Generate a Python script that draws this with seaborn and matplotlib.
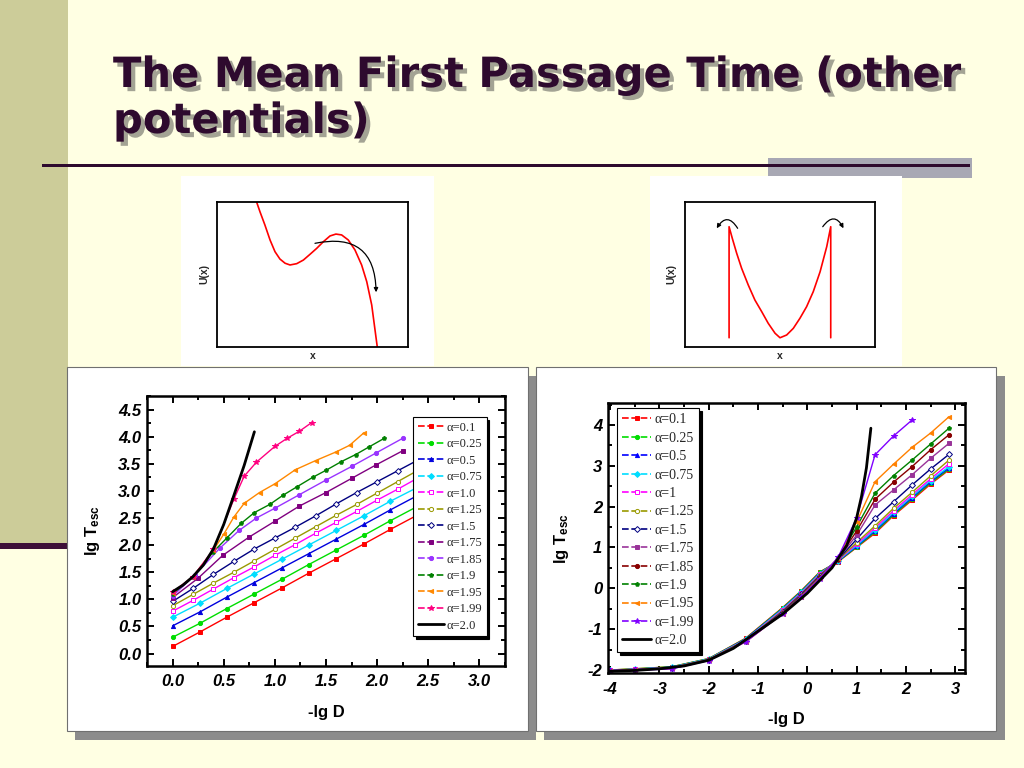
import matplotlib
matplotlib.use("Agg")
import matplotlib.pyplot as plt
import seaborn as sns
from matplotlib.patches import Rectangle
from matplotlib.lines import Line2D
from matplotlib.ticker import MultipleLocator, FormatStrFormatter, NullLocator
from matplotlib.font_manager import FontProperties
import matplotlib.patheffects as pe

# ---------------- data ----------------
TITLE_1 = "The Mean First Passage Time (other"
TITLE_2 = "potentials)"

LABELS_L = ['α=0.1', 'α=0.25', 'α=0.5', 'α=0.75', 'α=1.0', 'α=1.25', 'α=1.5',
            'α=1.75', 'α=1.85', 'α=1.9', 'α=1.95', 'α=1.99', 'α=2.0']
LABELS_R = ['α=0.1', 'α=0.25', 'α=0.5', 'α=0.75', 'α=1', 'α=1.25', 'α=1.5',
            'α=1.75', 'α=1.85', 'α=1.9', 'α=1.95', 'α=1.99', 'α=2.0']

COLORS_L = ['#FF0000', '#00DD00', '#0000DD', '#00DDFF', '#FF00FF', '#999900', '#000080',
            '#800080', '#9933FF', '#008000', '#FF8800', '#FF0080', '#000000']
COLORS_R = ['#FF0000', '#00DD00', '#0000FF', '#00DDFF', '#FF00FF', '#999900', '#000080',
            '#993399', '#880000', '#008000', '#FF8000', '#8000FF', '#000000']
MARKERS = ['s', 'o', '^', 'D', 's', 'o', 'D', 's', 'o', 'p', '<', '*', '']
OPEN = [False, False, False, False, True, True, True, False, False, False, False, False, False]

# left panel: lg T_esc vs -lg D
L_X_LOW = [0.0, 0.27, 0.53, 0.8, 1.07, 1.33, 1.6, 1.87, 2.13, 2.4, 2.67, 2.93]
L_Y_010 = [0.13, 0.40, 0.67, 0.94, 1.21, 1.48, 1.75, 2.02, 2.29, 2.56, 2.83, 3.10]
L_Y_025 = [0.30, 0.56, 0.83, 1.10, 1.37, 1.64, 1.91, 2.18, 2.45, 2.72, 2.99, 3.26]
L_Y_050 = [0.51, 0.77, 1.04, 1.31, 1.58, 1.84, 2.11, 2.38, 2.65, 2.92, 3.19, 3.46]
L_Y_075 = [0.67, 0.93, 1.20, 1.47, 1.74, 2.00, 2.27, 2.54, 2.81, 3.07, 3.34, 3.60]
L_X_MID = [0.0, 0.2, 0.4, 0.6, 0.8, 1.0, 1.2, 1.4, 1.6, 1.8, 2.0, 2.2, 2.4, 2.6, 2.8]
L_Y_100 = [0.78, 0.98, 1.19, 1.40, 1.60, 1.81, 2.01, 2.22, 2.42, 2.62, 2.83, 3.03, 3.24, 3.44, 3.65]
L_Y_125 = [0.88, 1.09, 1.30, 1.50, 1.71, 1.92, 2.13, 2.34, 2.55, 2.75, 2.96, 3.17, 3.38, 3.58, 3.79]
L_Y_150 = [0.96, 1.20, 1.46, 1.70, 1.93, 2.13, 2.33, 2.54, 2.76, 2.97, 3.17, 3.37, 3.57, 3.77, 3.97]
L_X_175 = [0.0, 0.25, 0.49, 0.75, 1.0, 1.24, 1.5, 1.75, 1.99, 2.25]
L_Y_175 = [1.03, 1.39, 1.81, 2.15, 2.44, 2.72, 2.97, 3.23, 3.48, 3.74]
L_X_185 = [0.0, 0.22, 0.46, 0.65, 0.82, 1.0, 1.24, 1.5, 1.75, 1.99, 2.25]
L_Y_185 = [1.06, 1.45, 1.94, 2.27, 2.50, 2.68, 2.93, 3.20, 3.45, 3.70, 3.97]
L_X_190 = [0.0, 0.2, 0.4, 0.53, 0.67, 0.8, 0.95, 1.08, 1.22, 1.37, 1.5, 1.65, 1.79, 1.92, 2.07]
L_Y_190 = [1.10, 1.42, 1.88, 2.13, 2.40, 2.60, 2.75, 2.92, 3.08, 3.25, 3.38, 3.54, 3.67, 3.81, 3.97]
L_X_195 = [0.0, 0.2, 0.4, 0.5, 0.6, 0.7, 0.85, 1.0, 1.2, 1.4, 1.6, 1.73, 1.87]
L_Y_195 = [1.12, 1.42, 1.91, 2.20, 2.52, 2.77, 2.97, 3.13, 3.39, 3.56, 3.72, 3.84, 4.07]
L_X_199 = [0.0, 0.2, 0.4, 0.6, 0.7, 0.82, 1.0, 1.12, 1.24, 1.36]
L_Y_199 = [1.13, 1.42, 1.92, 2.85, 3.27, 3.53, 3.82, 3.97, 4.10, 4.26]
L_X_200 = [0.0, 0.1, 0.2, 0.3, 0.4, 0.5, 0.6, 0.7, 0.8]
L_Y_200 = [1.14, 1.26, 1.42, 1.63, 1.93, 2.38, 2.92, 3.47, 4.09]

# right panel
R_X = [-4.0, -3.5, -2.75, -2.0, -1.25, -0.5, -0.125, 0.25, 0.625, 1.0, 1.375, 1.75, 2.125, 2.5, 2.875]
R_Y_010 = [-2.00, -1.97, -1.92, -1.72, -1.22, -0.47, -0.06, 0.40, 0.65, 1.00, 1.35, 1.78, 2.16, 2.55, 2.90]
R_Y_025 = [-2.00, -1.97, -1.92, -1.72, -1.23, -0.48, -0.07, 0.39, 0.66, 1.01, 1.38, 1.80, 2.19, 2.58, 2.92]
R_Y_050 = [-2.01, -1.98, -1.93, -1.73, -1.24, -0.50, -0.09, 0.37, 0.67, 1.03, 1.41, 1.83, 2.22, 2.61, 2.95]
R_Y_075 = [-2.01, -1.98, -1.93, -1.73, -1.25, -0.51, -0.10, 0.36, 0.68, 1.05, 1.44, 1.86, 2.25, 2.64, 2.98]
R_Y_100 = [-2.01, -1.98, -1.94, -1.74, -1.26, -0.53, -0.12, 0.34, 0.69, 1.08, 1.48, 1.90, 2.29, 2.68, 3.05]
R_Y_125 = [-2.02, -1.99, -1.94, -1.74, -1.27, -0.55, -0.14, 0.32, 0.70, 1.12, 1.53, 1.96, 2.35, 2.75, 3.14]
R_Y_150 = [-2.02, -1.99, -1.95, -1.75, -1.28, -0.57, -0.15, 0.30, 0.71, 1.20, 1.71, 2.12, 2.53, 2.92, 3.28]
R_Y_175 = [-2.02, -2.00, -1.95, -1.75, -1.29, -0.59, -0.17, 0.28, 0.72, 1.30, 2.04, 2.41, 2.78, 3.18, 3.55]
R_Y_185 = [-2.03, -2.00, -1.96, -1.76, -1.30, -0.60, -0.18, 0.27, 0.73, 1.40, 2.18, 2.60, 2.98, 3.39, 3.76]
R_Y_190 = [-2.03, -2.00, -1.96, -1.76, -1.30, -0.61, -0.19, 0.26, 0.74, 1.50, 2.33, 2.76, 3.14, 3.53, 3.92]
R_Y_195 = [-2.03, -2.00, -1.96, -1.76, -1.31, -0.62, -0.20, 0.25, 0.75, 1.62, 2.61, 3.04, 3.45, 3.80, 4.20]
R_X_199 = [-4.0, -3.5, -2.75, -2.0, -1.25, -0.5, -0.125, 0.25, 0.625, 1.0, 1.375, 1.75, 2.125]
R_Y_199 = [-2.03, -2.01, -1.97, -1.77, -1.31, -0.62, -0.21, 0.24, 0.76, 1.72, 3.27, 3.73, 4.12]
R_X_200 = [-4.0, -3.5, -3.0, -2.5, -2.0, -1.5, -1.0, -0.5, 0.0, 0.5, 0.8, 1.0, 1.1, 1.2, 1.29]
R_Y_200 = [-2.03, -2.01, -1.97, -1.90, -1.76, -1.47, -1.05, -0.63, -0.12, 0.50, 1.05, 1.72, 2.25, 2.95, 3.92]

# potential sketches (axes scaled 0..10)
U1_X = [2.07, 2.24, 2.5, 2.77, 3.03, 3.29, 3.56, 3.82, 4.17, 4.52, 4.87, 5.22, 5.57, 5.92,
        6.23, 6.53, 6.88, 7.23, 7.58, 7.85, 8.11, 8.4]
U1_Y = [10.0, 9.35, 8.43, 7.39, 6.58, 6.07, 5.78, 5.66, 5.75, 6.0, 6.4, 6.81, 7.27, 7.67,
        7.8, 7.74, 7.39, 6.7, 5.66, 4.5, 2.89, 0.0]
U2_X = [2.32, 2.32, 2.49, 2.72, 2.98, 3.33, 3.68, 4.04, 4.38, 4.74, 5.0, 5.35, 5.7, 6.05,
        6.4, 6.75, 7.11, 7.46, 7.67, 7.67]
U2_Y = [0.62, 8.31, 7.5, 6.47, 5.43, 4.27, 3.23, 2.42, 1.62, 0.93, 0.62, 0.81, 1.27, 1.97,
        2.77, 3.81, 5.19, 6.93, 8.31, 0.62]

# ---------------- style ----------------
sns.set_theme(style="ticks")
plt.rcParams['font.family'] = ['Liberation Sans', 'DejaVu Sans']
plt.rcParams['axes.unicode_minus'] = False
plt.rcParams['mathtext.fontset'] = 'custom'
plt.rcParams['mathtext.rm'] = 'Liberation Sans:bold'
plt.rcParams['mathtext.it'] = 'Liberation Sans:bold:italic'
plt.rcParams['mathtext.bf'] = 'Liberation Sans:bold'

W, H = 1024, 768
fig = plt.figure(figsize=(W / 100, H / 100), dpi=100)
fig.patch.set_facecolor('#FFFFE3')


def frect(x0, y0, x1, y1):
    return (x0 / W, 1 - y1 / H), (x1 - x0) / W, (y1 - y0) / H


def box(x0, y0, x1, y1, **kw):
    xy, w, h = frect(x0, y0, x1, y1)
    fig.add_artist(Rectangle(xy, w, h, transform=fig.transFigure, **kw))


def axes_at(x0, y0, x1, y1, **kw):
    xy, w, h = frect(x0, y0, x1, y1)
    return fig.add_axes([xy[0], xy[1], w, h], **kw)


# slide decoration
box(0, 0, 68, 543, facecolor='#CCCC99', edgecolor='none', zorder=-10)
box(0, 543, 68, 549, facecolor='#3D0F38', edgecolor='none', zorder=-9)
box(768, 158, 972, 178, facecolor='#A8A8B4', edgecolor='none', zorder=-9)
box(42, 164, 970, 167, facecolor='#2E0A2E', edgecolor='none', zorder=-8)

title_kw = dict(fontsize=30, fontweight='bold', color='#2E0A2E', va='baseline', ha='left',
                family=['DejaVu Sans'],
                path_effects=[pe.withSimplePatchShadow(offset=(3, -3), shadow_rgbFace='#A3A394', alpha=1.0)])
fig.text(113 / W, 1 - 87 / H, TITLE_1, **title_kw)
fig.text(113 / W, 1 - 133 / H, TITLE_2, **title_kw)

# panels
box(181, 176, 434, 366, facecolor='white', edgecolor='none', zorder=-7)
box(650, 176, 902, 366, facecolor='white', edgecolor='none', zorder=-7)
box(75, 376, 536, 740, facecolor='#8C8C8C', edgecolor='none', zorder=-6)
box(544, 376, 1005, 740, facecolor='#8C8C8C', edgecolor='none', zorder=-6)
box(67, 367, 528, 731, facecolor='white', edgecolor='#707070', linewidth=0.8, zorder=-5)
box(536, 367, 996, 731, facecolor='white', edgecolor='#707070', linewidth=0.8, zorder=-5)


# ---------------- insets ----------------
def inset(ax):
    ax.set_xlim(0, 10)
    ax.set_ylim(0, 10)
    ax.set_facecolor('white')
    ax.xaxis.set_major_locator(NullLocator())
    ax.yaxis.set_major_locator(NullLocator())
    for s in ax.spines.values():
        s.set_linewidth(1.3)
        s.set_color('black')
    ax.set_xlabel('x', fontsize=7.5, fontweight='bold', labelpad=3)
    ax.set_ylabel('U(x)', fontsize=7.5, fontweight='bold', labelpad=6)


ax1 = axes_at(217.3, 202.3, 407.7, 346.7)
inset(ax1)
sns.lineplot(x=U1_X, y=U1_Y, ax=ax1, color='red', linewidth=1.2, sort=False, estimator=None)
ax1.annotate('', xy=(8.34, 3.77), xytext=(5.13, 7.16),
             arrowprops=dict(arrowstyle='-|>', color='black', lw=0.9, mutation_scale=6,
                             connectionstyle='arc3,rad=-0.6', shrinkA=0, shrinkB=0))

ax2 = axes_at(685, 202.3, 875, 346.7)
inset(ax2)
sns.lineplot(x=U2_X, y=U2_Y, ax=ax2, color='red', linewidth=1.2, sort=False, estimator=None)
ax2.annotate('', xy=(1.67, 8.2), xytext=(2.77, 8.2),
             arrowprops=dict(arrowstyle='-|>', color='black', lw=0.9, mutation_scale=6,
                             connectionstyle='arc3,rad=0.8', shrinkA=0, shrinkB=0))
ax2.annotate('', xy=(8.34, 8.2), xytext=(7.25, 8.31),
             arrowprops=dict(arrowstyle='-|>', color='black', lw=0.9, mutation_scale=6,
                             connectionstyle='arc3,rad=-0.8', shrinkA=0, shrinkB=0))


# ---------------- main plots ----------------
def draw_series(ax, xs_list, ys_list, colors):
    handles = []
    for i, (xs, ys) in enumerate(zip(xs_list, ys_list)):
        c = colors[i]
        m = MARKERS[i]
        fc = 'white' if OPEN[i] else c
        ms = 4.2 if m == '*' else 3.0
        if m:
            sns.lineplot(x=xs, y=ys, ax=ax, color=c, linewidth=1.0, marker=m, markersize=ms,
                         markerfacecolor=fc, markeredgecolor=c, markeredgewidth=0.7,
                         sort=False, estimator=None, legend=False)
            handles.append(Line2D([], [], color=c, linestyle=(0, (4, 1.6)), linewidth=1.2,
                                  marker=m, markersize=ms, markerfacecolor=fc,
                                  markeredgecolor=c, markeredgewidth=0.7))
        else:
            sns.lineplot(x=xs, y=ys, ax=ax, color=c, linewidth=2.0, sort=False,
                         estimator=None, legend=False)
            handles.append(Line2D([], [], color=c, linewidth=2.0))
    return handles


def style_main(ax):
    for s in ax.spines.values():
        s.set_linewidth(1.8)
        s.set_color('black')
        s.set_visible(True)
    ax.tick_params(which='both', direction='in', top=True, right=True, width=1.4,
                   color='black', labelcolor='black')
    ax.tick_params(which='major', length=5)
    ax.tick_params(which='minor', length=3)
    ax.tick_params(axis='x', which='major', pad=6)
    ax.tick_params(axis='y', which='major', pad=4)
    for lab in ax.get_xticklabels() + ax.get_yticklabels():
        lab.set_fontweight('bold')
        lab.set_fontstyle('italic')
        lab.set_fontsize(12)
    ax.set_xlabel('-lg D', fontsize=12, fontweight='bold', labelpad=11, color='black')
    ax.set_ylabel(r'lg T$_{\mathrm{esc}}$', fontsize=12, fontweight='bold', labelpad=11.5,
                  color='black')
    ax.set_facecolor('white')
    ax.grid(False)


axL = axes_at(147, 396, 505, 666)
hL = draw_series(axL,
                 [L_X_LOW, L_X_LOW, L_X_LOW, L_X_LOW, L_X_MID, L_X_MID, L_X_MID,
                  L_X_175, L_X_185, L_X_190, L_X_195, L_X_199, L_X_200],
                 [L_Y_010, L_Y_025, L_Y_050, L_Y_075, L_Y_100, L_Y_125, L_Y_150,
                  L_Y_175, L_Y_185, L_Y_190, L_Y_195, L_Y_199, L_Y_200], COLORS_L)
axL.set_xlim(-0.25, 3.25)
axL.set_ylim(-0.23, 4.75)
axL.xaxis.set_major_locator(MultipleLocator(0.5))
axL.xaxis.set_minor_locator(MultipleLocator(0.25))
axL.yaxis.set_major_locator(MultipleLocator(0.5))
axL.yaxis.set_minor_locator(MultipleLocator(0.25))
axL.xaxis.set_major_formatter(FormatStrFormatter('%.1f'))
axL.yaxis.set_major_formatter(FormatStrFormatter('%.1f'))
style_main(axL)
legL = axL.legend(hL, LABELS_L, loc='upper left', bbox_to_anchor=(0.744, 0.921),
                  prop=FontProperties(family='Liberation Serif', size=9),
                  frameon=True, fancybox=False, shadow={'color': 'black', 'alpha': 1.0},
                  edgecolor='black', framealpha=1, borderpad=0.35, labelspacing=0.36,
                  handlelength=2.1, handletextpad=0.2, borderaxespad=0)
legL.get_frame().set_linewidth(0.8)

axR = axes_at(607.7, 403.3, 965, 673.3)
hR = draw_series(axR,
                 [R_X] * 11 + [R_X_199, R_X_200],
                 [R_Y_010, R_Y_025, R_Y_050, R_Y_075, R_Y_100, R_Y_125, R_Y_150,
                  R_Y_175, R_Y_185, R_Y_190, R_Y_195, R_Y_199, R_Y_200], COLORS_R)
axR.set_xlim(-4.05, 3.2)
axR.set_ylim(-2.08, 4.53)
axR.xaxis.set_major_locator(MultipleLocator(1))
axR.xaxis.set_minor_locator(MultipleLocator(0.5))
axR.yaxis.set_major_locator(MultipleLocator(1))
axR.yaxis.set_minor_locator(MultipleLocator(0.5))
axR.xaxis.set_major_formatter(FormatStrFormatter('%d'))
axR.yaxis.set_major_formatter(FormatStrFormatter('%d'))
style_main(axR)
legR = axR.legend(hR, LABELS_R, loc='upper left', bbox_to_anchor=(0.027, 0.981),
                  prop=FontProperties(family='Liberation Serif', size=10),
                  frameon=True, fancybox=False, shadow={'color': 'black', 'alpha': 1.0},
                  edgecolor='black', framealpha=1, borderpad=0.35, labelspacing=0.39,
                  handlelength=2.1, handletextpad=0.25, borderaxespad=0)
legR.get_frame().set_linewidth(0.8)

fig.savefig('out.png', dpi=100, facecolor=fig.get_facecolor())
